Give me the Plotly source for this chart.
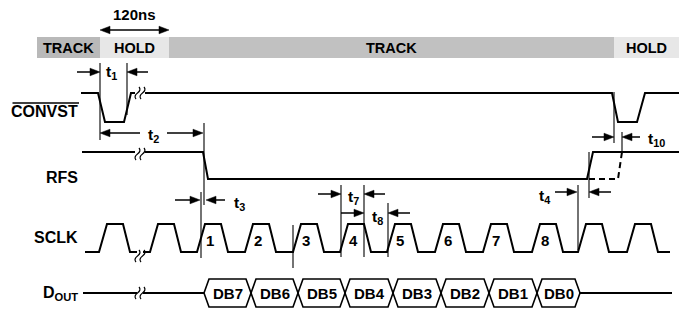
import plotly.graph_objects as go

W, H = 679, 309

# ---------------- data (time instants in diagram units, logic levels) -------------
PHASE_NAMES = ["TRACK", "HOLD", "TRACK", "HOLD"]
PHASE_EDGES = [37, 100, 169, 614, 679]

CONVST_T = [[81, 98, 105, 124, 131, 135], [145, 612, 618, 637, 645, 679]]
CONVST_L = [[1, 1, 0, 0, 1, 1], [1, 1, 0, 0, 1, 1]]

RFS_T = [[82, 135], [145, 203, 208, 587, 593, 679]]
RFS_L = [[1, 1], [1, 1, 0, 0, 1, 1]]
RFS_ALT_T = [589, 618, 622]
RFS_ALT_L = [0, 0, 1]

SCLK_SEG_START = [85, 143]
SCLK_SEG_END = [137, 670]
SCLK_RISE = [[99], [150, 197, 245, 293, 340, 387, 435, 483, 532, 578, 627]]
SCLK_NUMBERS = [[""], ["", "1", "2", "3", "4", "5", "6", "7", "8", "", ""]]

DOUT_EDGES = [204, 251, 298, 345, 393, 441, 489, 537, 580]
DOUT_LABELS = ["DB7", "DB6", "DB5", "DB4", "DB3", "DB2", "DB1", "DB0"]
DOUT_IDLE = [[83, 137], [143, 204], [580, 672]]

SIGNAL_NAMES = ["CONVST", "RFS", "SCLK", "D<sub>OUT</sub>"]

# timing parameters: (label, left reference, right reference)
TIMING_LABELS = ["t<sub>1</sub>", "t<sub>2</sub>", "t<sub>3</sub>", "t<sub>7</sub>",
                 "t<sub>8</sub>", "t<sub>4</sub>", "t<sub>10</sub>"]
TIMING_FROM = [100, 100, 200, 341, 341, 577, 614]
TIMING_TO = [127, 203, 206, 364, 388, 589, 622]

# ---------------- layout / style constants ----------------
PHASE_COLORS = ["#b9b9b9", "#e7e7e7", "#c1c1c1", "#e7e7e7"]
BAR_Y = (37, 58)
ROW = {"CONVST": (93, 122), "RFS": (152, 179), "SCLK": (224, 252)}
DOUT_MID, DOUT_HALF, DOUT_SLANT = 293, 14, 5
FONT = "Liberation Sans, Arial, sans-serif"
LW = 2.0

fig = go.Figure()


def line(xs, ys, width=LW, dash=None):
    fig.add_trace(go.Scatter(x=xs, y=ys, mode="lines", hoverinfo="skip",
                             line=dict(color="black", width=width, dash=dash),
                             showlegend=False))


def level_y(row, lv):
    hi, lo = ROW[row]
    return hi if lv else lo


def tri(tip_x, y, direction):
    L, h = 10, 3.8
    bx = tip_x - direction * L
    fig.add_trace(go.Scatter(x=[tip_x, bx, bx, tip_x], y=[y, y - h, y + h, y],
                             mode="lines", fill="toself", fillcolor="black",
                             line=dict(color="black", width=0.5),
                             hoverinfo="skip", showlegend=False))


def arrow(tail, head, y):
    d = 1 if head > tail else -1
    line([tail, head - d * 6], [y, y], width=1.5)
    tri(head, y, d)


def squiggle(x0, yc):
    for dx in (-2.5, 2.5):
        x = x0 + dx
        fig.add_shape(type="path", xref="x", yref="y",
                      path=f"M {x+1.5},{yc-6} Q {x+4},{yc-3} {x},{yc} Q {x-4},{yc+3} {x-1.5},{yc+6}",
                      line=dict(color="black", width=1.2))


def text(x, y, s, size=15, xanchor="center", yanchor="middle"):
    fig.add_annotation(x=x, y=y, text=f"<b>{s}</b>", showarrow=False,
                       xanchor=xanchor, yanchor=yanchor,
                       font=dict(family=FONT, size=size, color="black"))


# ---- track / hold bar ----
for i, name in enumerate(PHASE_NAMES):
    x0, x1 = PHASE_EDGES[i], PHASE_EDGES[i + 1]
    fig.add_shape(type="rect", xref="x", yref="y", x0=x0, x1=x1, y0=BAR_Y[0], y1=BAR_Y[1],
                  fillcolor=PHASE_COLORS[i], line=dict(width=0), layer="below")
    text((x0 + x1) / 2, (BAR_Y[0] + BAR_Y[1]) / 2 + 0.5, name, size=14.5)

# 120ns
text((PHASE_EDGES[1] + PHASE_EDGES[2]) / 2, 14, "120ns", size=15)
line([PHASE_EDGES[1] + 6, PHASE_EDGES[2] - 6], [30, 30], width=1.5)
tri(PHASE_EDGES[1], 30, -1)
tri(PHASE_EDGES[2], 30, 1)

# ---- CONVST ----
for T, Lv in zip(CONVST_T, CONVST_L):
    line(T, [level_y("CONVST", v) for v in Lv])
squiggle(140, 93)

# ---- RFS ----
for T, Lv in zip(RFS_T, RFS_L):
    line(T, [level_y("RFS", v) for v in Lv])
line(RFS_ALT_T, [level_y("RFS", v) for v in RFS_ALT_L], width=LW, dash="6px,4px")
squiggle(140, 154)

# ---- SCLK ----
for s, e, rises, nums in zip(SCLK_SEG_START, SCLK_SEG_END, SCLK_RISE, SCLK_NUMBERS):
    xs, lv = [s], [0]
    for r, n in zip(rises, nums):
        xs += [r, r + 8, r + 24, r + 31]
        lv += [0, 1, 1, 0]
        if n:
            text(r + 13, 240, n, size=15)
    xs.append(e)
    lv.append(0)
    line(xs, [level_y("SCLK", v) for v in lv])
squiggle(140, 256)

# ---- DOUT ----
for a, b in DOUT_IDLE:
    line([a, b], [DOUT_MID, DOUT_MID])
squiggle(140, 293)
top, bot = DOUT_MID - DOUT_HALF, DOUT_MID + DOUT_HALF
ux, uy = [DOUT_EDGES[0]], [DOUT_MID]
lx, ly = [DOUT_EDGES[0]], [DOUT_MID]
for i, e in enumerate(DOUT_EDGES[1:-1]):
    up = top if i % 2 == 0 else bot
    dn = bot if i % 2 == 0 else top
    ux += [e - DOUT_SLANT, e + DOUT_SLANT]
    uy += [up, dn]
    lx += [e - DOUT_SLANT, e + DOUT_SLANT]
    ly += [dn, up]
# starting corners
ux.insert(1, DOUT_EDGES[0] + DOUT_SLANT); uy.insert(1, top)
lx.insert(1, DOUT_EDGES[0] + DOUT_SLANT); ly.insert(1, bot)
ux += [DOUT_EDGES[-1] - DOUT_SLANT, DOUT_EDGES[-1]]
uy += [uy[-1], DOUT_MID]
lx += [DOUT_EDGES[-1] - DOUT_SLANT, DOUT_EDGES[-1]]
ly += [ly[-1], DOUT_MID]
line(ux, uy, width=1.6)
line(lx, ly, width=1.6)
for i, lab in enumerate(DOUT_LABELS):
    text((DOUT_EDGES[i] + DOUT_EDGES[i + 1]) / 2, DOUT_MID + 0.5, lab, size=15)

# ---- signal names ----
name_y = [111.5, 177, 237.5, 293]
for n, y in zip(SIGNAL_NAMES, name_y):
    text(79.5, y, n, size=16, xanchor="right")
line([12.5, 79], [103, 103], width=1.5)  # overline of CONVST

# ---- reference (vertical) lines ----
VREF = [(100, 63, 140), (127, 63, 115), (204, 123, 205), (201, 192, 258),
        (293, 225, 268), (341, 185, 257), (364, 185, 257), (388, 203, 257),
        (578, 185, 250), (589, 152, 198), (614, 92, 143), (622, 132, 153)]
for x, y0, y1 in VREF:
    line([x, x], [y0, y1], width=1.1)

# ---- timing arrows ----
ARROWS = [  # (tailL, y, tailR, label_x, label_y)
    (77, 72, 148, 104, 72),
    (140, 133, 167, 146, 135.5),
    (175, 200, 225, 232, 203),
    (318, 194, 385, 346, 197.5),
    (None, 213, 410, 370, 217),
    (555, 192, 611, 537, 196.5),
    (592, 137, 640, 646, 139.5),
]
for lab, a, b, (tl, y, tr, lx_, ly_) in zip(TIMING_LABELS, TIMING_FROM, TIMING_TO, ARROWS):
    if tl is None:
        arrow(a, TIMING_TO[3], y)
        arrow(tr, b, y)
    else:
        arrow(tl, a, y)
        arrow(tr, b, y)
    text(lx_, ly_, lab, size=15.5, xanchor="left")

fig.update_layout(
    width=W, height=H, margin=dict(l=0, r=0, t=0, b=0),
    paper_bgcolor="white", plot_bgcolor="white",
    xaxis=dict(range=[0, W], visible=False, fixedrange=True),
    yaxis=dict(range=[H, 0], visible=False, fixedrange=True),
    showlegend=False,
)
fig.write_html("out.html", config={"displayModeBar": False},
               post_script="document.body.style.margin='0';document.body.style.overflow='hidden';")
